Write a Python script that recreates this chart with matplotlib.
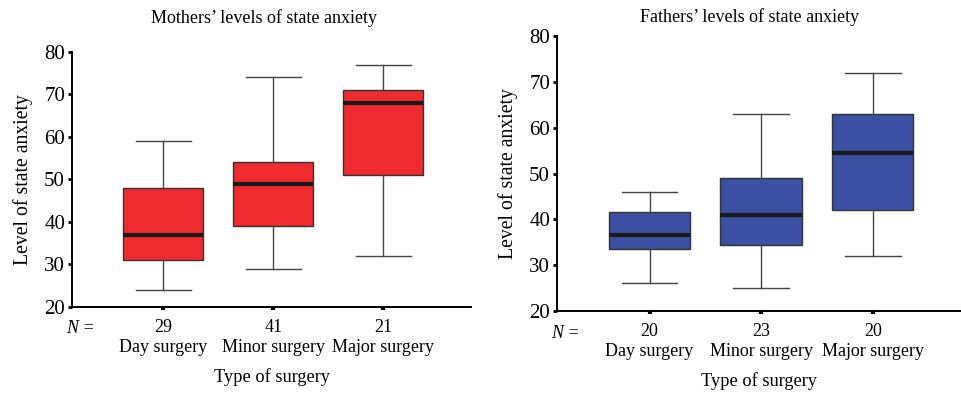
import matplotlib
matplotlib.use("Agg")
import matplotlib.pyplot as plt

plt.rcParams['font.family'] = ['Liberation Serif', 'DejaVu Serif']

categories = ["Day surgery", "Minor surgery", "Major surgery"]

# mothers: whisker low, q1, median, q3, whisker high
mothers_lo = [24, 29, 32]
mothers_q1 = [31, 39, 51]
mothers_med = [37, 49, 68]
mothers_q3 = [48, 54, 71]
mothers_hi = [59, 74, 77]
mothers_n = [29, 41, 21]

fathers_lo = [26, 25, 32]
fathers_q1 = [33.5, 34.5, 42]
fathers_med = [36.5, 41, 54.5]
fathers_q3 = [41.5, 49, 63]
fathers_hi = [46, 63, 72]
fathers_n = [20, 23, 20]

yticks = [20, 30, 40, 50, 60, 70, 80]


def make_stats(lo, q1, med, q3, hi):
    return [dict(whislo=a, q1=b, med=c, q3=d, whishi=e, fliers=[])
            for a, b, c, d, e in zip(lo, q1, med, q3, hi)]


def draw_panel(fig, rect, stats, ns, color, title, title_y):
    ax = fig.add_axes(rect)
    ax.bxp(stats, positions=[1, 2, 3], widths=0.73, patch_artist=True,
           showfliers=False,
           boxprops=dict(facecolor=color, edgecolor="#333333", linewidth=1.0),
           medianprops=dict(color="#1a1a1a", linewidth=3),
           whiskerprops=dict(color="#444444", linewidth=1.0),
           capprops=dict(color="#444444", linewidth=1.0),
           capwidths=0.5)
    ax.set_xlim(0.17, 3.8)
    ax.set_ylim(20, 80)
    ax.set_yticks(yticks)
    ax.spines["top"].set_visible(False)
    ax.spines["right"].set_visible(False)
    ax.spines["left"].set_linewidth(1.4)
    ax.spines["bottom"].set_linewidth(1.4)
    ax.tick_params(axis="y", length=3, width=2, labelsize=15, pad=2)
    ax.tick_params(axis="x", length=2.5, width=3, labelsize=13, pad=6.5)
    ax.set_xticks([1, 2, 3])
    ax.set_xticklabels([f"{n}\n{c}" for n, c in zip(ns, categories)],
                       linespacing=1.2)
    ax.text(-0.015, -0.05, "N =", transform=ax.transAxes, ha="left", va="top",
            fontsize=13, style="italic")
    ax.set_xlabel("Type of surgery", fontsize=13.2, labelpad=9)
    ax.set_ylabel("Level of state anxiety", fontsize=14.2, labelpad=8)
    fig.text(rect[0] + 0.2, title_y, title, ha="center", va="center",
             fontsize=13)
    return ax


fig = plt.figure(figsize=(9.62, 3.95), dpi=100)

draw_panel(fig, [0.0748, 0.2228, 0.415, 0.6456],
           make_stats(mothers_lo, mothers_q1, mothers_med, mothers_q3, mothers_hi),
           mothers_n, "#ee2a2e", "Mothers\u2019 levels of state anxiety", 0.955)
draw_panel(fig, [0.579, 0.2127, 0.421, 0.696],
           make_stats(fathers_lo, fathers_q1, fathers_med, fathers_q3, fathers_hi),
           fathers_n, "#3b4fa3", "Fathers\u2019 levels of state anxiety", 0.958)

fig.savefig("out.png", dpi=100)
